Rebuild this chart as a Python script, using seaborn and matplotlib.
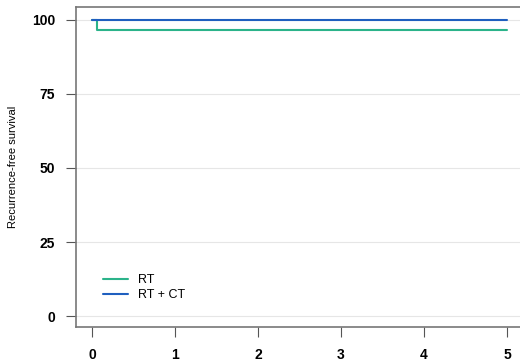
import matplotlib
matplotlib.use("Agg")
import matplotlib.pyplot as plt
import seaborn as sns
import pandas as pd

# Kaplan-Meier step points (years, % recurrence-free)
rt_time = [0.0, 0.06, 5.0]
rt_surv = [100.0, 96.7, 96.7]
rtct_time = [0.0, 5.0]
rtct_surv = [100.0, 100.0]
groups = ["RT", "RT + CT"]
colors = ["#2bb38a", "#1f5fbf"]
x_ticks = [0, 1, 2, 3, 4, 5]
y_ticks = [0, 25, 50, 75, 100]

df = pd.concat([
    pd.DataFrame({"time": rt_time, "surv": rt_surv, "group": groups[0]}),
    pd.DataFrame({"time": rtct_time, "surv": rtct_surv, "group": groups[1]}),
], ignore_index=True)

sns.set_style("white")
plt.rcParams["font.family"] = ["Liberation Sans", "DejaVu Sans"]
plt.rcParams["text.color"] = "black"
plt.rcParams["axes.labelcolor"] = "black"
plt.rcParams["xtick.color"] = "black"
plt.rcParams["ytick.color"] = "black"

fig = plt.figure(figsize=(5.2, 3.61), dpi=100)
ax = fig.add_axes([0.146, 0.094, 0.854, 0.887])

for y in y_ticks:
    ax.axhline(y, color="#e6e6e6", lw=0.8, zorder=0)

sns.lineplot(data=df, x="time", y="surv", hue="group", hue_order=groups,
             palette=colors, drawstyle="steps-post", lw=1.5, ax=ax,
             estimator=None, sort=False)

ax.set_xlim(-0.193, 5.157)
ax.set_ylim(-3.7, 104.4)
ax.set_xticks(x_ticks)
ax.set_yticks(y_ticks)
ax.set_xticklabels([str(t) for t in x_ticks], fontweight="bold", fontsize=10)
ax.set_yticklabels([str(t) for t in y_ticks], fontweight="bold", fontsize=10)
ax.tick_params(axis="both", which="major", bottom=True, left=True,
               direction="out", length=7, width=0.8, color="#555555",
               labelcolor="black", pad=8)
ax.set_xlabel("")
ax.set_ylabel("Recurrence-free survival", fontsize=8, labelpad=10)

for side in ["left", "top", "bottom"]:
    ax.spines[side].set_color("#777777")
    ax.spines[side].set_linewidth(1.2)
ax.spines["right"].set_visible(False)

leg = ax.legend(loc="lower left", bbox_to_anchor=(0.035, 0.045), frameon=False,
                fontsize=9, handlelength=2.0, labelspacing=0.25)
for line in leg.get_lines():
    line.set_linewidth(1.5)

fig.savefig("out.png", dpi=100)
